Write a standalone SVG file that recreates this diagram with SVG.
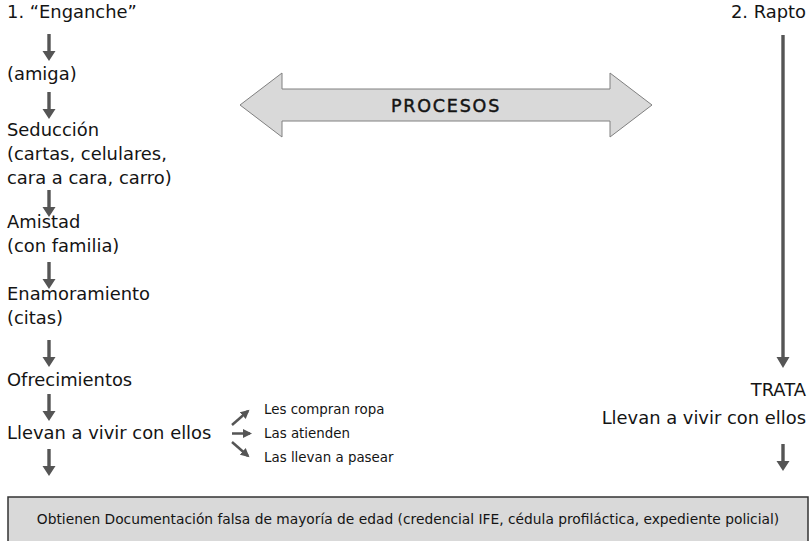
<svg xmlns="http://www.w3.org/2000/svg" width="812" height="541" viewBox="0 0 812 541">
<style>
text{font-family:"DejaVu Sans","Open Sans",sans-serif;fill:#141414;}
.m{font-size:17.9px;}
.s{font-size:13.4px;}
.r{text-anchor:end;}
.arr{fill:#555;}
.ln{stroke:#555;stroke-width:2.5;fill:none;}
</style>
<defs>
<path id="down" d="M-1.7,0 V17 H-6.5 L0,27 L6.5,17 H1.7 V0 Z"/>
<marker id="ah" markerWidth="10" markerHeight="10" refX="7" refY="5" orient="auto" markerUnits="userSpaceOnUse">
<path d="M0,0.5 L9,5 L0,9.5 Z" fill="#555"/>
</marker>
</defs>
<rect width="812" height="541" fill="#fff"/>
<g id="connectors">
<use href="#down" class="arr" x="49" y="34"/>
<use href="#down" class="arr" x="49" y="92"/>
<use href="#down" class="arr" x="49" y="190"/>
<use href="#down" class="arr" x="49" y="262"/>
<use href="#down" class="arr" x="49" y="340"/>
<use href="#down" class="arr" x="49" y="394"/>
<use href="#down" class="arr" x="49" y="449"/>
<path d="M781.3,35 V357 H776.5 L783,368 L789.5,357 H784.7 V35 Z" class="arr"/>
<use href="#down" class="arr" x="783" y="444"/>
<line x1="232" y1="425" x2="248" y2="411" class="ln" marker-end="url(#ah)"/>
<line x1="232" y1="433.5" x2="250" y2="433.5" class="ln" marker-end="url(#ah)"/>
<line x1="232" y1="442" x2="248" y2="456" class="ln" marker-end="url(#ah)"/>
</g>
<g id="procesos">
<path d="M240,105 L282,73 L282,89 L610,89 L610,73 L652,105 L610,137 L610,121 L282,121 L282,137 Z" fill="#d9d9d9" stroke="#808080" stroke-width="1"/>
<text x="446" y="111.5" font-size="17.5" text-anchor="middle" letter-spacing="1.8" stroke="#141414" stroke-width="0.45">PROCESOS</text>
</g>
<g id="n-enganche"><text class="m" x="7" y="18">1. “Enganche”</text></g>
<g id="n-amiga"><text class="m" x="7" y="80">(amiga)</text></g>
<g id="n-seduccion"><text class="m" x="7" y="136">Seducción</text><text class="m" x="7" y="160">(cartas, celulares,</text><text class="m" x="7" y="184">cara a cara, carro)</text></g>
<g id="n-amistad"><text class="m" x="7" y="228">Amistad</text><text class="m" x="7" y="252">(con familia)</text></g>
<g id="n-enamoramiento"><text class="m" x="7" y="300">Enamoramiento</text><text class="m" x="7" y="324">(citas)</text></g>
<g id="n-ofrecimientos"><text class="m" x="7" y="386">Ofrecimientos</text></g>
<g id="n-llevan1"><text class="m" x="7" y="439">Llevan a vivir con ellos</text></g>
<g id="n-sub"><text class="s" x="264" y="414">Les compran ropa</text><text class="s" x="264" y="438">Las atienden</text><text class="s" x="264" y="462">Las llevan a pasear</text></g>
<g id="n-rapto"><text class="m r" x="806" y="18">2. Rapto</text></g>
<g id="n-trata"><text class="m r" x="806" y="396">TRATA</text></g>
<g id="n-llevan2"><text class="m r" x="806" y="424">Llevan a vivir con ellos</text></g>
<g id="n-documentacion">
<rect x="8" y="497" width="800" height="60" fill="#d9d9d9" stroke="#333" stroke-width="1.5"/>
<text x="408" y="524" font-size="13.8" text-anchor="middle">Obtienen Documentación falsa de mayoría de edad (credencial IFE, cédula profiláctica, expediente policial)</text>
</g>
</svg>
